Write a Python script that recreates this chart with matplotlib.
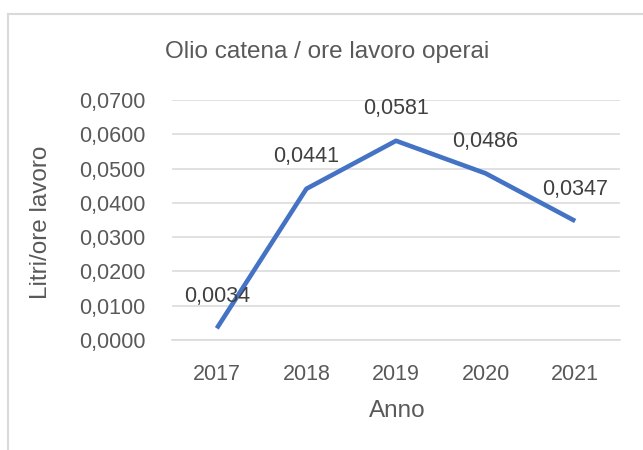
import matplotlib.pyplot as plt
from matplotlib.lines import Line2D

# Data
years = ['2017', '2018', '2019', '2020', '2021']
values = [0.0034, 0.0441, 0.0581, 0.0486, 0.0347]
y_ticks = [0.0, 0.01, 0.02, 0.03, 0.04, 0.05, 0.06, 0.07]

plt.rcParams['font.family'] = ['Liberation Sans', 'DejaVu Sans']
txt = '#595959'

fig = plt.figure(figsize=(6.43, 4.5), dpi=100)
ax = fig.add_axes([172/643, 1-340/450, 448/643, 240/450])

x = range(len(years))
ax.plot(x, values, color='#4472C4', linewidth=3.3, solid_capstyle='butt')

for xi, v in zip(x, values):
    ax.annotate(f'{v:.4f}'.replace('.', ','), (xi, v), xytext=(0, 23),
                textcoords='offset points', ha='center', va='center',
                fontsize=15.5, color='#404040')

ax.set_xlim(-0.5, len(years) - 0.5)
ax.set_ylim(0, 0.07)
ax.set_xticks(list(x))
ax.set_xticklabels(years)
ax.set_yticks(y_ticks)
ax.set_yticklabels([f'{t:.4f}'.replace('.', ',') for t in y_ticks])
ax.tick_params(axis='both', length=0, labelsize=15.5, labelcolor=txt)
ax.tick_params(axis='y', pad=19)
ax.tick_params(axis='x', pad=17)

ax.grid(axis='y', color='#d9d9d9', linewidth=1.1)
ax.set_axisbelow(True)
for s in ['left', 'right', 'top']:
    ax.spines[s].set_visible(False)
ax.spines['bottom'].set_color('#d9d9d9')
ax.spines['bottom'].set_linewidth(1.1)

ax.set_xlabel('Anno', fontsize=17.5, color=txt)
ax.set_ylabel('Litri/ore lavoro', fontsize=17.5, color=txt)
ax.xaxis.set_label_coords(0.502, -0.25)
ax.yaxis.set_label_coords(-0.268, 0.49)

fig.text(0.509, 1-52/450, 'Olio catena / ore lavoro operai', ha='center', va='center',
         fontsize=17.5, color=txt)

# chart area border (cropped on right and bottom)
bx = 8/643
by = 1-14/450
fig.add_artist(Line2D([bx, bx], [0, by], color='#d9d9d9', linewidth=1.5, transform=fig.transFigure))
fig.add_artist(Line2D([bx, 1], [by, by], color='#d9d9d9', linewidth=1.5, transform=fig.transFigure))

fig.savefig('out.png', dpi=100)
